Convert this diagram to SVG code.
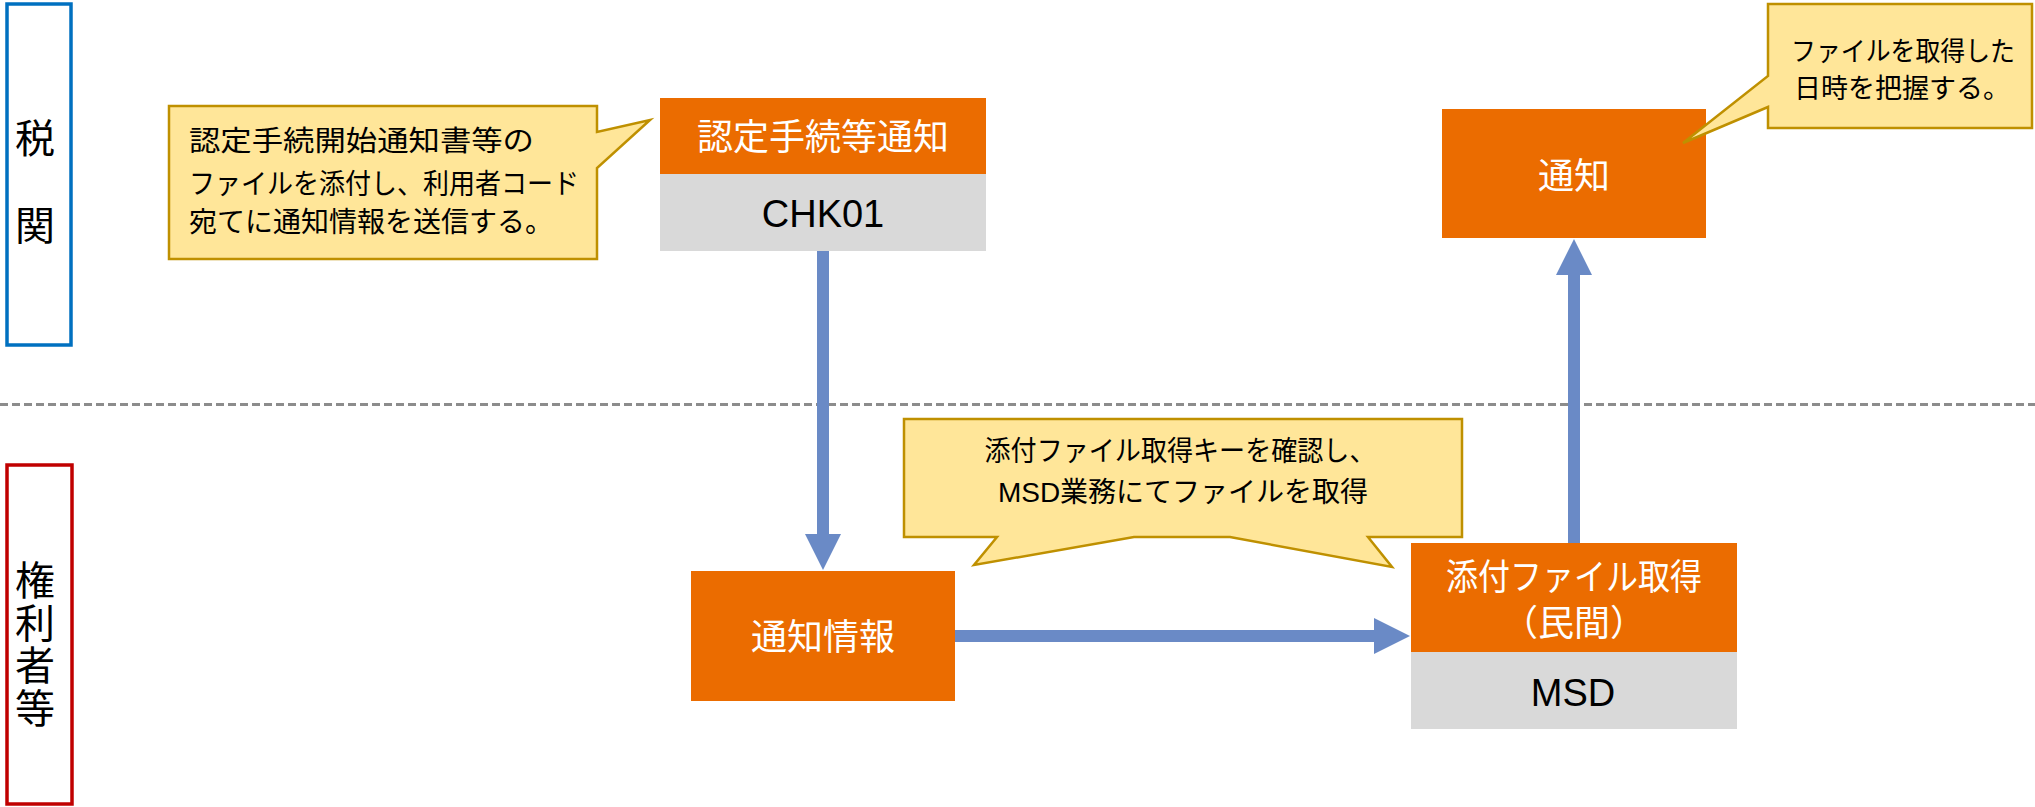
<svg xmlns="http://www.w3.org/2000/svg" width="2035" height="807" viewBox="0 0 2035 807">
<style>
text{font-family:"Liberation Sans","Noto Sans CJK JP",sans-serif;}
.lane{fill:#ffffff;stroke-width:3.5}
.lbl{font-size:40px;fill:#000;text-anchor:middle}
.hd{fill:#eb6c00}
.sub{fill:#d9d9d9}
.wt{font-size:36px;fill:#ffffff;text-anchor:middle}
.bt{font-size:38px;fill:#000;text-anchor:middle}
.co{fill:#ffe699;stroke:#bf9000;stroke-width:2.5;stroke-linejoin:miter}
.ct{font-size:28px;fill:#000}
.conn{stroke:#6a8ac6;stroke-width:12;fill:none}
</style>
<defs>
<marker id="ah" markerUnits="userSpaceOnUse" markerWidth="36" markerHeight="36" refX="0" refY="18" orient="auto" viewBox="0 0 36 36">
<path d="M0,0 L36,18 L0,36 Z" fill="#6a8ac6"/>
</marker>
</defs>
<rect width="2035" height="807" fill="#ffffff"/>
<line x1="0" y1="404.5" x2="2035" y2="404.5" stroke="#8c8c8c" stroke-width="3" stroke-dasharray="8 4"/>
<g id="lane-zeikan">
<rect class="lane" x="7" y="4" width="64" height="341" stroke="#0070c0"/>
<text class="lbl" x="35" y="153">税</text>
<text class="lbl" x="35" y="240">関</text>
</g>
<g id="lane-kenrisha">
<rect class="lane" x="7" y="465" width="65" height="339" stroke="#c00000"/>
<text class="lbl" x="35" y="595">権</text>
<text class="lbl" x="35" y="638">利</text>
<text class="lbl" x="35" y="680">者</text>
<text class="lbl" x="35" y="723">等</text>
</g>
<g id="connectors">
<line class="conn" x1="823" y1="251" x2="823" y2="534" marker-end="url(#ah)"/>
<line class="conn" x1="955" y1="636" x2="1374" y2="636" marker-end="url(#ah)"/>
<line class="conn" x1="1574" y1="543" x2="1574" y2="275" marker-end="url(#ah)"/>
</g>
<g id="node-chk01">
<rect class="hd" x="660" y="98" width="326" height="76"/>
<rect class="sub" x="660" y="174" width="326" height="77"/>
<text class="wt" x="823" y="150">認定手続等通知</text>
<text class="bt" x="823" y="227">CHK01</text>
</g>
<g id="node-tsuchi-joho">
<rect class="hd" x="691" y="571" width="264" height="130"/>
<text class="wt" x="823" y="650">通知情報</text>
</g>
<g id="node-msd">
<rect class="hd" x="1411" y="543" width="326" height="109"/>
<rect class="sub" x="1411" y="652" width="326" height="77"/>
<text class="wt" x="1574" y="590" textLength="256" lengthAdjust="spacingAndGlyphs">添付ファイル取得</text>
<text class="wt" x="1574" y="636">（民間）</text>
<text class="bt" x="1573" y="706">MSD</text>
</g>
<g id="node-tsuchi">
<rect class="hd" x="1442" y="109" width="264" height="129"/>
<text class="wt" x="1574" y="189">通知</text>
</g>
<g id="callout-1">
<path class="co" d="M169,106 H597 V132 L650,120 L597,168 V259 H169 Z"/>
<text class="ct" x="189" y="151" textLength="345" lengthAdjust="spacingAndGlyphs">認定手続開始通知書等の</text>
<text class="ct" x="189" y="194" textLength="390" lengthAdjust="spacingAndGlyphs">ファイルを添付し、利用者コード</text>
<text class="ct" x="189" y="232" textLength="364" lengthAdjust="spacingAndGlyphs">宛てに通知情報を送信する。</text>
</g>
<g id="callout-2">
<path class="co" d="M904,419 H1462 V537 H1368 L1392,567 L1230,537 H1134 L974,565 L997,537 H904 Z"/>
<text class="ct" x="1180" y="461" text-anchor="middle" textLength="391" lengthAdjust="spacingAndGlyphs">添付ファイル取得キーを確認し、</text>
<text class="ct" x="1183" y="502" text-anchor="middle">MSD業務にてファイルを取得</text>
</g>
<g id="callout-3">
<path class="co" d="M1768,4 H2032 V128 H1768 V107 L1683,143 L1768,76 Z"/>
<text class="ct" x="1903" y="61" text-anchor="middle" style="font-size:27px" textLength="224" lengthAdjust="spacingAndGlyphs">ファイルを取得した</text>
<text class="ct" x="1902" y="98" text-anchor="middle" style="font-size:27px">日時を把握する。</text>
</g>
</svg>
